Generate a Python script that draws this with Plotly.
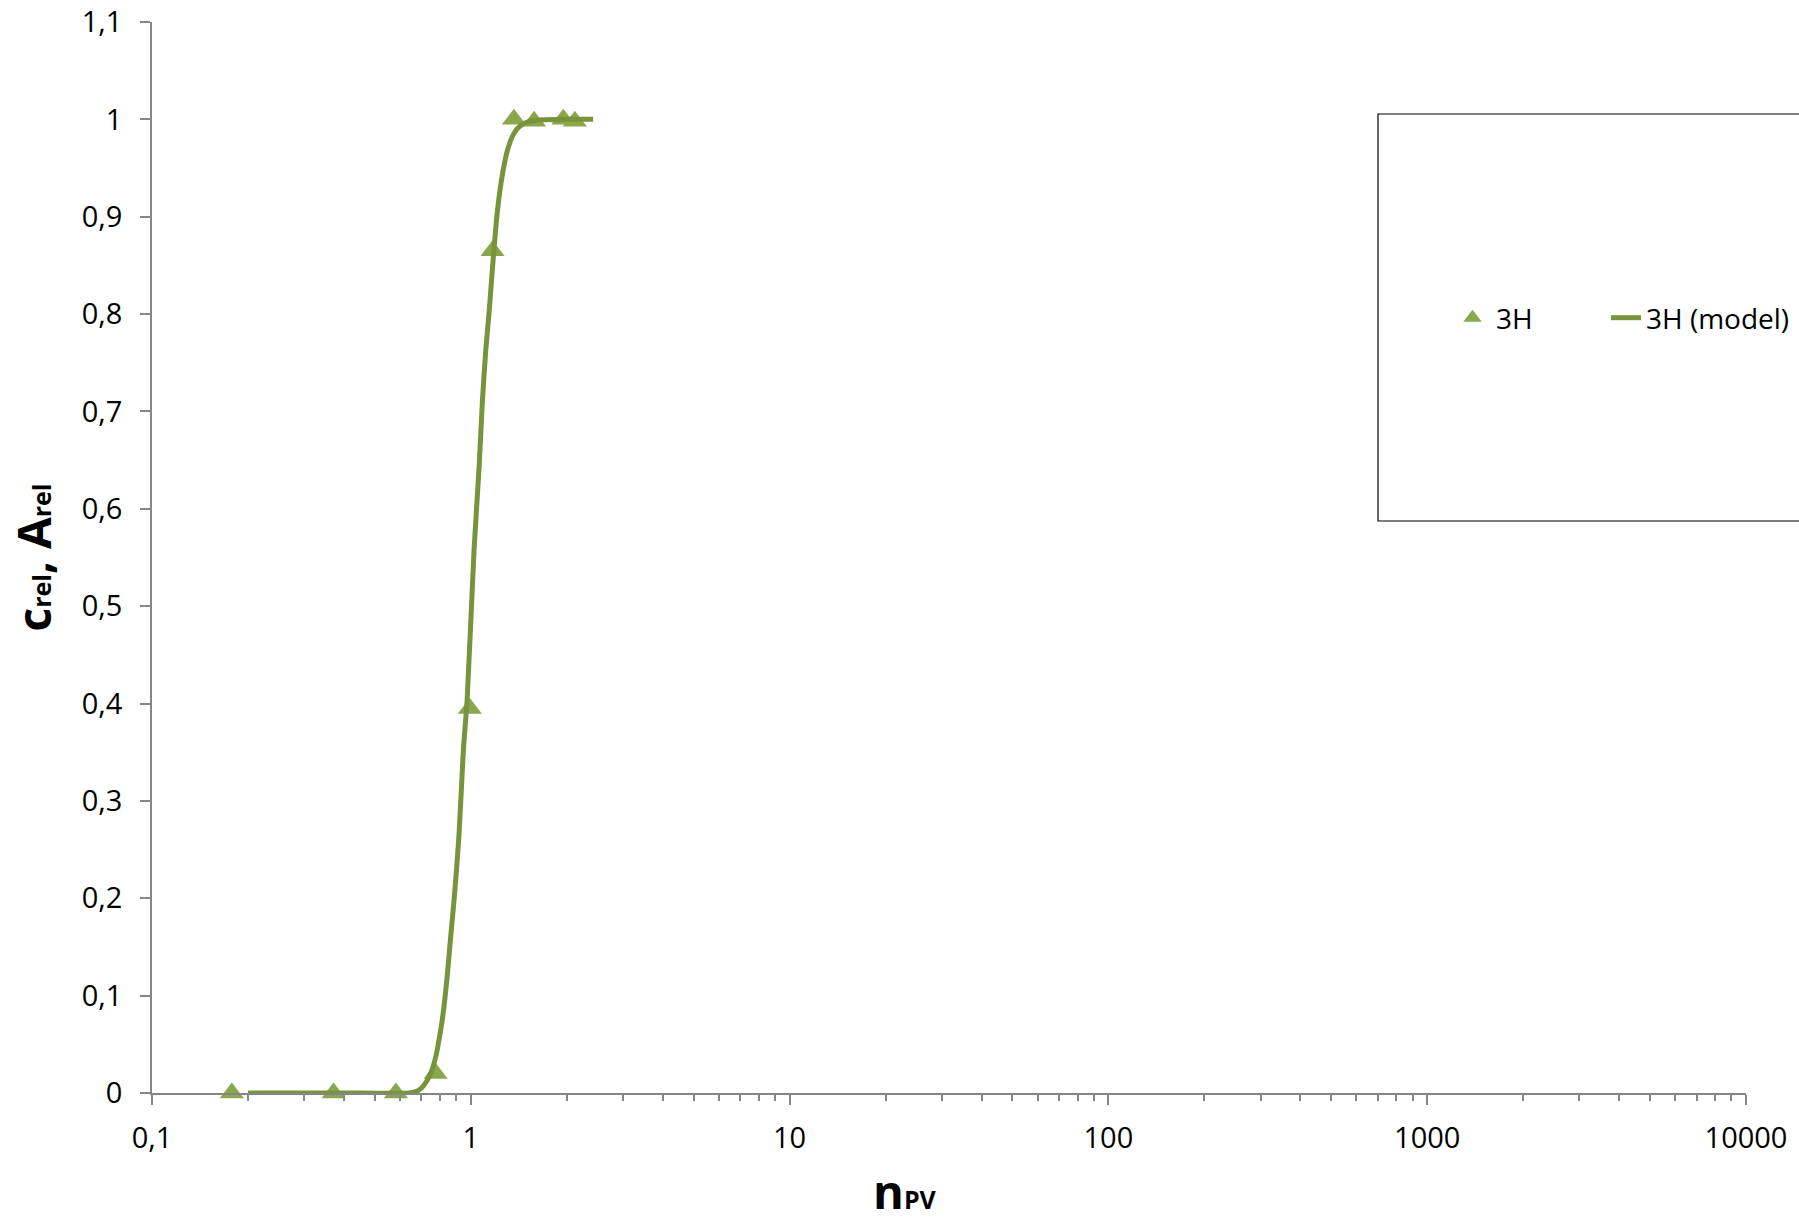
import plotly.graph_objects as go

# Measured tracer breakthrough (3H): pore volumes vs. relative concentration
npv_meas = [0.178, 0.371, 0.582, 0.776, 0.993, 1.17, 1.365, 1.58, 1.95, 2.12]
crel_meas = [0.0, 0.0, 0.0, 0.02, 0.395, 0.865, 1.0, 0.998, 1.0, 0.998]

# Model breakthrough curve (3H model)
npv_model = [0.2, 0.45, 0.64, 0.68, 0.713, 0.748, 0.776, 0.805, 0.824,
             0.845, 0.865, 0.886, 0.919, 0.948, 0.974, 1.024, 1.062,
             1.088, 1.115, 1.142, 1.175, 1.213, 1.259, 1.305, 1.368, 1.455,
             1.602, 2.0, 2.42]
crel_model = [0.0, 0.0, 0.0, 0.002, 0.008, 0.020, 0.037, 0.065, 0.089,
              0.123, 0.161, 0.198, 0.267, 0.353, 0.404, 0.558, 0.643,
              0.712, 0.764, 0.803, 0.856, 0.907, 0.945, 0.969, 0.986, 0.995,
              0.999, 1.0, 1.0]

# Axis ticks and labels (decimal comma)
x_tickvals = [0.1, 1, 10, 100, 1000, 10000]
x_ticktext = ["0,1", "1", "10", "100", "1000", "10000"]
y_tickvals = [0.0, 0.1, 0.2, 0.3, 0.4, 0.5, 0.6, 0.7, 0.8, 0.9, 1.0, 1.1]
y_ticktext = ["0", "0,1", "0,2", "0,3", "0,4", "0,5", "0,6", "0,7", "0,8",
              "0,9", "1", "1,1"]

FONT = "Open Sans"
AXIS_GREY = "#868686"
MARKER_GREEN = "#8AA84B"
LINE_GREEN = "#77933C"

W, H = 1799, 1222
ML, MR, MT, MB = 152, 53, 22, 129
PW, PH = W - ML - MR, H - MT - MB


def px_x(px):
    return (px - ML) / PW


def px_y(py):
    return (H - MB - py) / PH


fig = go.Figure()

fig.add_trace(go.Scatter(
    x=npv_meas, y=crel_meas, mode="markers", name="3H",
    marker=dict(symbol="triangle-up", size=21, color=MARKER_GREEN,
                line=dict(width=0)),
    cliponaxis=False, legend="legend",
))

fig.add_trace(go.Scatter(
    x=npv_model, y=crel_model, mode="lines", name="3H (model)",
    line=dict(color=LINE_GREEN, width=5, shape="spline", smoothing=0.8),
    cliponaxis=False, legend="legend2",
))

legend_common = dict(
    orientation="h", xanchor="left", yanchor="middle",
    bgcolor="rgba(0,0,0,0)", borderwidth=0,
    font=dict(family=FONT, size=28, color="black"),
)

fig.update_layout(
    width=W, height=H,
    margin=dict(l=ML, r=MR, t=MT, b=MB, autoexpand=False),
    paper_bgcolor="white", plot_bgcolor="white",
    font=dict(family=FONT, size=29, color="black"),
    showlegend=True,
    legend=dict(x=px_x(1449), y=px_y(318), itemwidth=37, **legend_common),
    legend2=dict(x=px_x(1606), y=px_y(318), **legend_common),
    xaxis=dict(
        type="log", range=[-1, 4], automargin=False,
        tickvals=x_tickvals, ticktext=x_ticktext,
        ticks="outside", ticklen=10, tickwidth=1.5, tickcolor=AXIS_GREY,
        showline=True, linecolor=AXIS_GREY, linewidth=1.5,
        showgrid=False, zeroline=False,
        minor=dict(ticks="outside", ticklen=6, tickwidth=1.5,
                   tickcolor=AXIS_GREY, dtick="D1", showgrid=False),
        tickfont=dict(family=FONT, size=29, color="black"),
        ticklabelstandoff=8,
    ),
    yaxis=dict(
        range=[0, 1.1], automargin=False,
        tickvals=y_tickvals, ticktext=y_ticktext,
        ticks="outside", ticklen=10, tickwidth=1.5, tickcolor=AXIS_GREY,
        showline=True, linecolor=AXIS_GREY, linewidth=1.5,
        showgrid=False, zeroline=False,
        tickfont=dict(family=FONT, size=29, color="black"),
        ticklabelstandoff=12,
    ),
)

# Legend frame
fig.add_shape(
    type="rect", xref="paper", yref="paper",
    x0=px_x(1378), x1=px_x(1815), y0=px_y(521), y1=px_y(114),
    line=dict(color="black", width=1.2), fillcolor="rgba(0,0,0,0)",
    layer="below",
)

# Axis titles
fig.add_annotation(
    text='<b>n<span style="font-size:25px">PV</span></b>',
    xref="paper", yref="paper", x=px_x(905), y=px_y(1191),
    xanchor="center", yanchor="middle", showarrow=False,
    font=dict(family=FONT, size=47, color="black"),
)
fig.add_annotation(
    text='<b>c<span style="font-size:25px">rel</span>, A<span style="font-size:25px">rel</span></b>',
    xref="paper", yref="paper", x=px_x(32), y=0.5,
    xanchor="center", yanchor="middle", showarrow=False, textangle=-90,
    font=dict(family=FONT, size=46, color="black"),
)

fig.write_html("out.html")
